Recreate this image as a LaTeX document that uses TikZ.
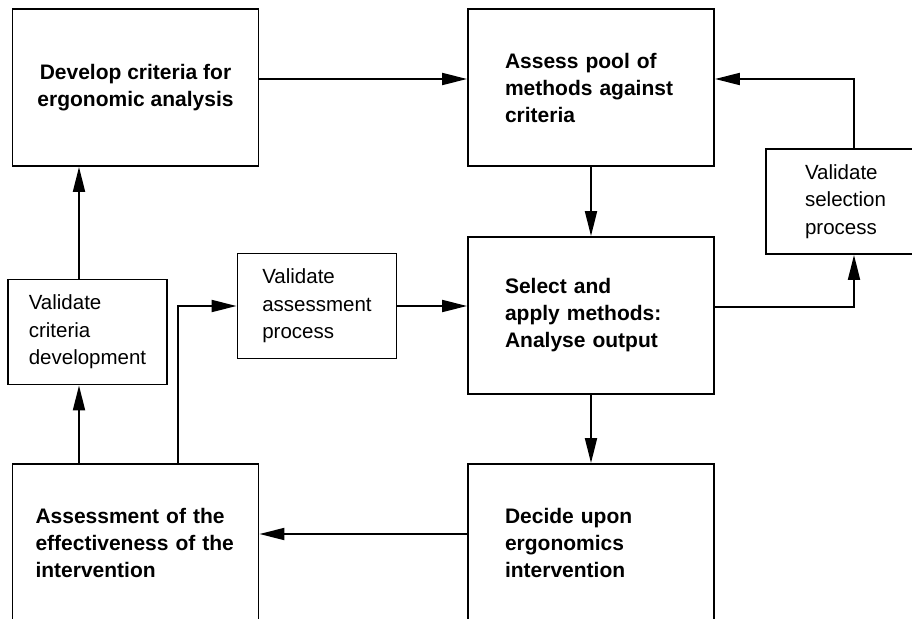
\documentclass[tikz,border=0pt]{standalone}
\usepackage{fontspec}
\setmainfont{Liberation Sans}
\usetikzlibrary{arrows.meta}

\begin{document}
\begin{tikzpicture}[x=1pt,y=-1pt,>={Triangle[length=25pt,width=12pt]},line width=1.9pt,
	bigbox/.style={draw,minimum width=246pt,minimum height=157pt,inner sep=0pt,font=\fontsize{21}{27}\selectfont\bfseries},
	smallbox/.style={draw,minimum width=159pt,minimum height=105pt,inner sep=0pt,align=left,font=\fontsize{20.5}{27.5}\selectfont}]
		\useasboundingbox (0,0) rectangle (912,618);
		\clip (0,0) rectangle (912,618);
		\node[bigbox,align=center] (dev) at (135.5,87.5) {Develop criteria for\\ergonomic analysis};
		\node[bigbox,text width=172pt,align=left] (pool) at (591,87.5) {Assess pool of\\methods against\\criteria};
		\node[bigbox,text width=172pt,align=left] (sel) at (591,315.5) {Select and\\apply methods:\\Analyse output};
		\node[bigbox,text width=172pt,align=left] (dec) at (591,542.5) {Decide upon\\ergonomics\\intervention};
		\node[bigbox,text width=200pt,align=left] (eff) at (135.5,542.5) {Assessment of the\\effectiveness of the\\intervention};
		\node[smallbox] (vcrit) at (87.5,332) {Validate\\criteria\\development};
		\node[smallbox] (vass) at (317,306) {Validate\\assessment\\process};
		\node[smallbox] (vsel) at (845.5,201.5) {Validate\\selection\\process};
		\draw[->] ([yshift=8.5pt]dev.east) -- ([yshift=8.5pt]pool.west);
		\draw[->] ([xshift=8.5pt]vsel.north) |- ([yshift=8.5pt]pool.east);
		\draw[->] (pool.south) -- (sel.north);
		\draw[->] ([yshift=8.5pt]sel.east) -| ([xshift=8.5pt]vsel.south);
		\draw[->] (sel.south) -- (dec.north);
		\draw[->] ([yshift=8.5pt]dec.west) -- ([yshift=8.5pt]eff.east);
		\draw[->] ([xshift=-56.5pt]eff.north) -- ([xshift=-8.5pt]vcrit.south);
		\draw[->] ([xshift=-8.5pt]vcrit.north) -- ([xshift=-56.5pt]dev.south);
		\draw[->] ([xshift=42.5pt]eff.north) |- (vass.west);
		\draw[->] (vass.east) -- (vass.east -| sel.west);
\end{tikzpicture}
\end{document}
